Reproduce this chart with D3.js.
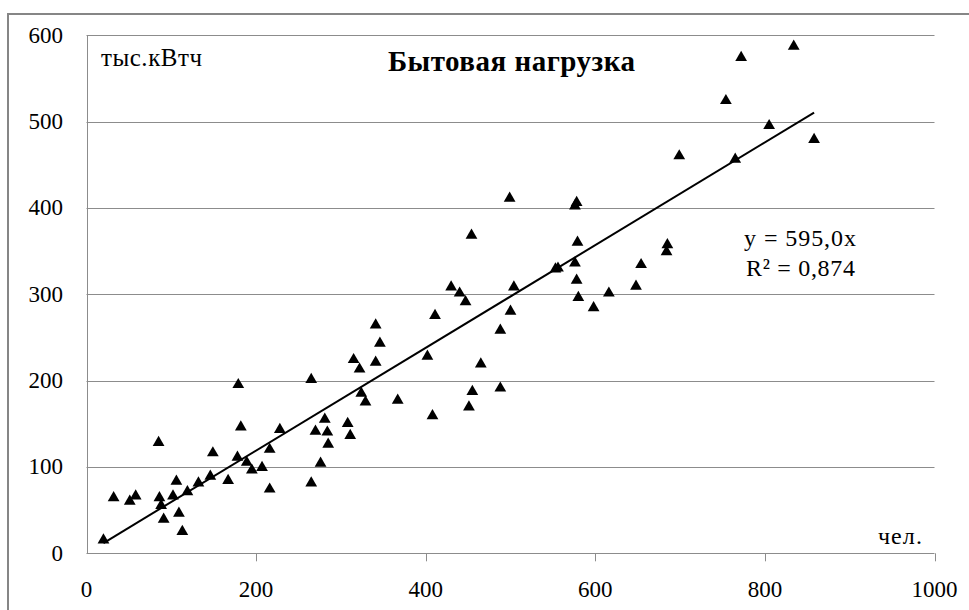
<!DOCTYPE html>
<html>
<head>
<meta charset="utf-8">
<script src="https://cdn.jsdelivr.net/npm/d3@7"></script>
</head>
<body style="margin:0">
<script>
// population of a settlement, persons
var persons = [20, 32, 51, 58, 85, 86, 88, 91, 102, 106, 109, 113, 119, 132, 146, 149, 167, 178, 179, 182,
    189, 195, 207, 216, 216, 228, 265, 265, 270, 276, 281, 284, 285, 308, 311, 315, 322, 324, 329, 341,
    341, 346, 367, 402, 408, 411, 430, 440, 447, 451, 454, 455, 465, 488, 488, 499, 500, 504, 553, 556,
    576, 578, 576, 578, 579, 580, 598, 616, 648, 654, 684, 685, 699, 754, 765, 772, 805, 834, 858];
// household load, thousand kWh
var load = [17, 66, 62, 68, 130, 66, 57, 41, 68, 85, 48, 27, 73, 83, 91, 118, 86, 113, 197, 148,
    107, 98, 101, 76, 122, 145, 83, 203, 143, 106, 157, 142, 128, 152, 138, 226, 215, 187, 177, 266,
    223, 245, 179, 230, 161, 277, 310, 303, 293, 171, 370, 189, 221, 193, 260, 413, 282, 310, 331, 332,
    404, 408, 338, 318, 362, 298, 286, 303, 311, 336, 351, 359, 462, 526, 458, 576, 497, 589, 481];

var xTicks = [0, 200, 400, 600, 800, 1000];
var yTicks = [0, 100, 200, 300, 400, 500, 600];
var trendSlope = 0.595;   // y = 595,0x  (x in thousands of persons)
var trendLabels = ["y = 595,0x", "R\u00b2 = 0,874"];
var chartTitle = "Бытовая нагрузка";
var yUnit = "тыс.кВтч", xUnit = "чел.";

var width = 969, height = 610;

var x = d3.scaleLinear().domain([0, 1000]).range([86.5, 934.5]);
var y = d3.scaleLinear().domain([0, 600]).range([553.3, 35.3]);

var svg = d3.select("body").append("svg")
    .attr("width", width)
    .attr("height", height);

// outer chart frame (runs off the picture on the right and bottom)
svg.append("rect")
    .attr("x", 8).attr("y", 14)
    .attr("width", 1000).attr("height", 700)
    .attr("fill", "none")
    .attr("stroke", "#868686")
    .attr("stroke-width", 2);

// plain text; if fitW is given, letters are spaced out a little to reach that width
function label(txt, px, py, size, anchor, bold, fitW) {
    var t = svg.append("text")
        .attr("x", px).attr("y", py)
        .attr("text-anchor", anchor)
        .style("font-family", "'Liberation Serif'")
        .style("font-size", size + "px")
        .style("font-weight", bold ? "bold" : "normal")
        .text(txt);
    if (fitW) {
        var len = t.node().getComputedTextLength();
        var n = String(txt).length;
        if (fitW > len && n > 1) t.style("letter-spacing", ((fitW - len) / (n - 1)) + "px");
    }
    return t;
}

// horizontal gridlines
svg.append("g").selectAll("line")
    .data(yTicks.filter(function(d) { return d > 0; }))
    .enter().append("line")
    .attr("x1", x(0)).attr("x2", x(1000))
    .attr("y1", function(d) { return Math.round(y(d)) + 0.5; })
    .attr("y2", function(d) { return Math.round(y(d)) + 0.5; })
    .attr("stroke", "#8c8c8c")
    .attr("stroke-width", 1);

// axes
svg.append("line")
    .attr("x1", Math.round(x(0)) + 0.5).attr("x2", Math.round(x(0)) + 0.5)
    .attr("y1", y(600)).attr("y2", y(0))
    .attr("stroke", "#8c8c8c");
svg.append("line")
    .attr("x1", x(0)).attr("x2", x(1000))
    .attr("y1", Math.round(y(0)) + 0.5).attr("y2", Math.round(y(0)) + 0.5)
    .attr("stroke", "#8c8c8c");
svg.append("g").selectAll("line")
    .data(xTicks.filter(function(d) { return d > 0; }))
    .enter().append("line")
    .attr("x1", function(d) { return Math.round(x(d)) + 0.5; })
    .attr("x2", function(d) { return Math.round(x(d)) + 0.5; })
    .attr("y1", y(0)).attr("y2", y(0) + 8)
    .attr("stroke", "#8c8c8c");

// tick labels
yTicks.forEach(function(d) {
    label(d, 63, y(d) + 7.5, 23, "end");
});
xTicks.forEach(function(d) {
    label(d, x(d), 597, 23, "middle");
});

// trend line from smallest to largest observation
var xExt = d3.extent(persons);
svg.append("path")
    .datum(xExt)
    .attr("d", d3.line()
        .x(function(d) { return x(d); })
        .y(function(d) { return y(d * trendSlope); }))
    .attr("stroke", "#000")
    .attr("stroke-width", 2)
    .attr("fill", "none");

// triangle markers
var tri = d3.symbol().type(d3.symbolTriangle).size(60);
svg.append("g").selectAll("path")
    .data(persons.map(function(p, i) { return [p, load[i]]; }))
    .enter().append("path")
    .attr("d", tri)
    .attr("transform", function(d) { return "translate(" + x(d[0]) + "," + (y(d[1]) + 1.5) + ")"; })
    .attr("fill", "#000");

// texts
label(chartTitle, 511.7, 71, 29, "middle", true, 247);
label(yUnit, 101, 66, 25, "start", false, 101);
label(xUnit, 923, 544, 24, "end", false, 44);
label(trendLabels[0], 744, 246, 24, "start", false, 112);
label(trendLabels[1], 746, 276, 24, "start", false, 109);
</script>
</body>
</html>
